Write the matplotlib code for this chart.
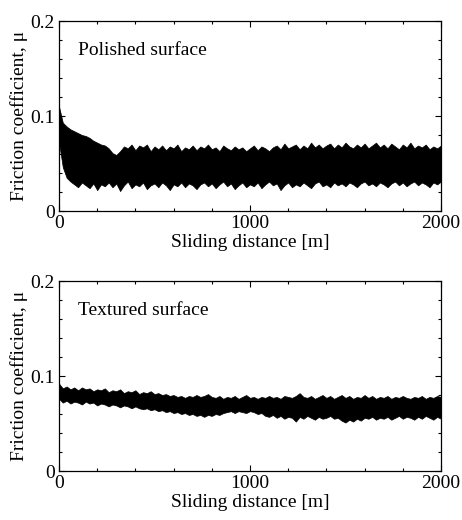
import numpy as np
import matplotlib
matplotlib.use("Agg")
import matplotlib.pyplot as plt
from matplotlib.ticker import MultipleLocator, FuncFormatter

plt.rcParams["font.family"] = ["Liberation Serif", "DejaVu Serif"]

# Envelope of the friction trace, every 20 m (0 ... 2000 m)
POLISHED_UPPER = [
    0.110, 0.093, 0.089, 0.086, 0.084, 0.082, 0.080, 0.079, 0.077, 0.074,
    0.072, 0.070, 0.069, 0.066, 0.061, 0.059, 0.063, 0.068, 0.066, 0.070,
    0.064, 0.069, 0.067, 0.070, 0.063, 0.068, 0.065, 0.069, 0.064, 0.068,
    0.066, 0.070, 0.063, 0.067, 0.065, 0.069, 0.064, 0.068, 0.066, 0.070,
    0.065, 0.067, 0.063, 0.069, 0.066, 0.064, 0.068, 0.065, 0.067, 0.063,
    0.066, 0.069, 0.064, 0.068, 0.066, 0.063, 0.067, 0.069, 0.065, 0.071,
    0.066, 0.068, 0.070, 0.065, 0.069, 0.066, 0.072, 0.067, 0.070, 0.066,
    0.069, 0.071, 0.066, 0.070, 0.067, 0.072, 0.068, 0.066, 0.070, 0.067,
    0.071, 0.066, 0.069, 0.072, 0.067, 0.070, 0.066, 0.071, 0.068, 0.065,
    0.070, 0.067, 0.072, 0.066, 0.069, 0.067, 0.070, 0.065, 0.068, 0.066,
    0.069,
]
POLISHED_LOWER = [
    0.072, 0.046, 0.035, 0.031, 0.028, 0.025, 0.030, 0.027, 0.024, 0.029,
    0.022, 0.028, 0.026, 0.030, 0.025, 0.029, 0.021, 0.027, 0.031, 0.024,
    0.028, 0.026, 0.030, 0.023, 0.027, 0.029, 0.025, 0.030, 0.027, 0.022,
    0.028, 0.026, 0.030, 0.025, 0.029, 0.027, 0.023, 0.028, 0.030, 0.026,
    0.029, 0.024, 0.028, 0.031, 0.026, 0.029, 0.023, 0.027, 0.030, 0.025,
    0.028, 0.026, 0.030, 0.024, 0.028, 0.031, 0.027, 0.029, 0.022, 0.027,
    0.030, 0.025, 0.028, 0.026, 0.030, 0.027, 0.024, 0.029, 0.031, 0.026,
    0.028, 0.025, 0.030, 0.027, 0.029, 0.026, 0.030, 0.028, 0.025, 0.029,
    0.031, 0.027, 0.029, 0.026, 0.030, 0.028, 0.025, 0.029, 0.031, 0.027,
    0.030, 0.026, 0.029, 0.031, 0.027, 0.030, 0.028, 0.025, 0.030, 0.028,
    0.031,
]
TEXTURED_UPPER = [
    0.092, 0.087, 0.089, 0.086, 0.088, 0.085, 0.088, 0.086, 0.087, 0.084,
    0.086, 0.085, 0.087, 0.083, 0.085, 0.084, 0.086, 0.082, 0.084, 0.083,
    0.085, 0.081, 0.083, 0.082, 0.084, 0.081, 0.082, 0.080, 0.081, 0.079,
    0.080, 0.078, 0.079, 0.077, 0.079, 0.078, 0.080, 0.078, 0.079, 0.081,
    0.078, 0.077, 0.079, 0.076, 0.078, 0.077, 0.079, 0.076, 0.078, 0.080,
    0.077, 0.078, 0.076, 0.078, 0.077, 0.079, 0.077, 0.078, 0.076, 0.079,
    0.078, 0.077, 0.079, 0.082, 0.078, 0.077, 0.079, 0.076, 0.078, 0.080,
    0.077, 0.079, 0.076, 0.078, 0.080, 0.077, 0.079, 0.076, 0.078, 0.077,
    0.080, 0.077, 0.079, 0.076, 0.078, 0.077, 0.079, 0.076, 0.078, 0.077,
    0.079, 0.077, 0.076, 0.078, 0.077, 0.079, 0.076, 0.078, 0.077, 0.079,
    0.078,
]
TEXTURED_LOWER = [
    0.076, 0.072, 0.074, 0.071, 0.073, 0.072, 0.070, 0.073, 0.071, 0.072,
    0.069, 0.071, 0.070, 0.068, 0.070, 0.069, 0.067, 0.069, 0.068, 0.066,
    0.068, 0.066, 0.065, 0.066, 0.064, 0.065, 0.063, 0.064, 0.062, 0.063,
    0.061, 0.062, 0.060, 0.061, 0.059, 0.060, 0.058, 0.059, 0.057, 0.059,
    0.058, 0.060, 0.059, 0.061, 0.062, 0.063, 0.061, 0.063, 0.062, 0.061,
    0.063, 0.062, 0.060, 0.061, 0.058, 0.057, 0.059, 0.056, 0.058, 0.055,
    0.057, 0.056, 0.052, 0.057, 0.055, 0.058, 0.056, 0.054, 0.057, 0.055,
    0.056, 0.058, 0.055, 0.056, 0.053, 0.051, 0.054, 0.052, 0.055, 0.053,
    0.056, 0.055, 0.057, 0.054, 0.056, 0.055, 0.057, 0.054, 0.056, 0.058,
    0.055, 0.057, 0.056, 0.054, 0.057, 0.055, 0.058, 0.056, 0.054, 0.057,
    0.055,
]
DISTANCE = np.linspace(0, 2000, len(POLISHED_UPPER))

PANELS = [
    ("Polished surface", POLISHED_UPPER, POLISHED_LOWER),
    ("Textured surface", TEXTURED_UPPER, TEXTURED_LOWER),
]

fig = plt.figure(figsize=(4.62, 5.2), dpi=100)
axes = [fig.add_axes([0.1277, 0.5942, 0.8268, 0.3654]),
        fig.add_axes([0.1277, 0.0942, 0.8268, 0.3654])]

for ax, (label, upper, lower) in zip(axes, PANELS):
    ax.fill_between(DISTANCE, lower, upper, color="black",
                    linewidth=0.5, edgecolor="black")
    ax.set_xlim(0, 2000)
    ax.set_ylim(0, 0.2)
    ax.xaxis.set_major_locator(MultipleLocator(1000))
    ax.xaxis.set_minor_locator(MultipleLocator(200))
    ax.yaxis.set_major_locator(MultipleLocator(0.1))
    ax.yaxis.set_minor_locator(MultipleLocator(0.02))
    ax.yaxis.set_major_formatter(FuncFormatter(
        lambda v, p: "0" if abs(v) < 1e-9 else f"{v:.1f}"))
    ax.tick_params(which="both", direction="in", top=True, right=True,
                   labelsize=14, width=0.8, pad=3)
    ax.tick_params(which="major", length=4)
    ax.tick_params(which="minor", length=2.5)
    for sp in ax.spines.values():
        sp.set_linewidth(0.9)
    ax.set_xlabel("Sliding distance [m]", fontsize=14, labelpad=1)
    ax.set_ylabel("Friction coefficient, μ", fontsize=14, labelpad=2)
    ax.text(0.05, 0.845, label, transform=ax.transAxes, fontsize=14,
            va="center", ha="left")

fig.savefig("out.png", dpi=100)
